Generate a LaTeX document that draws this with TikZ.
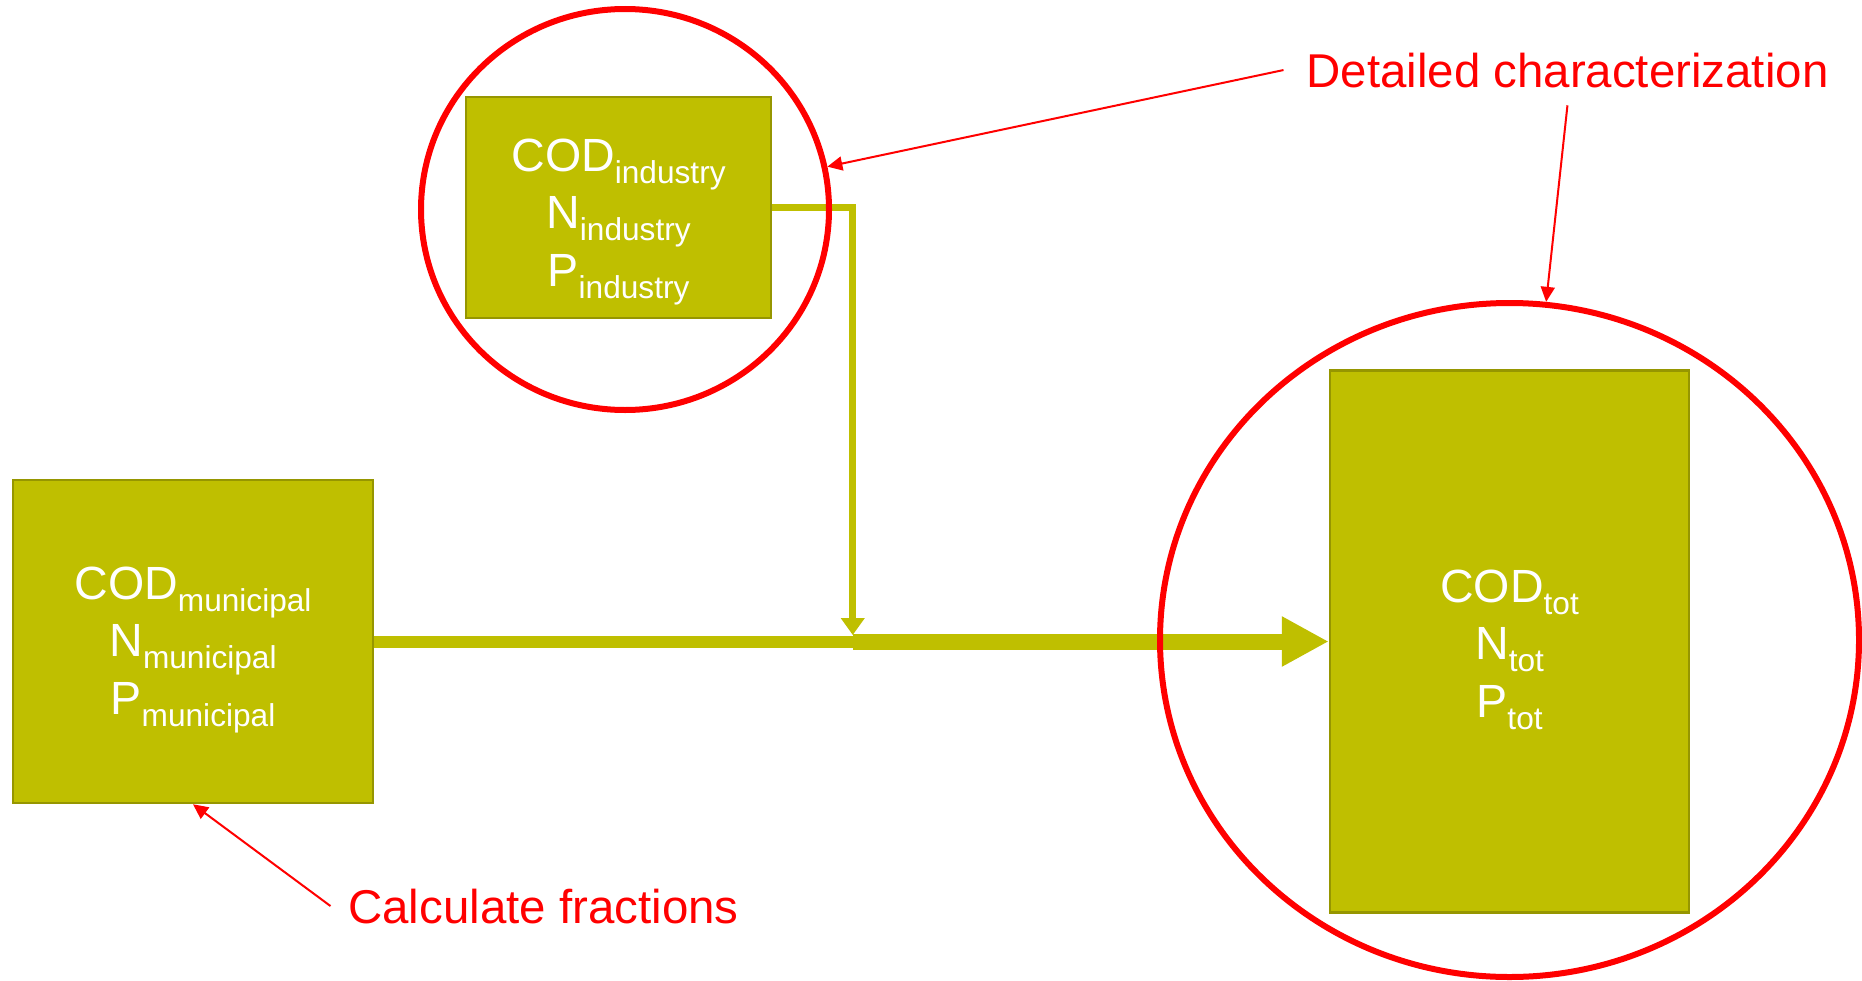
\documentclass[tikz,border=0pt]{standalone}
\usepackage{fontspec}
\setmainfont{Liberation Sans}
\usepackage{xcolor}
\usepackage{tikz}
\usetikzlibrary{arrows.meta,positioning,shapes.geometric}
\definecolor{olivebox}{RGB}{191,191,0}
\definecolor{oliveedge}{RGB}{150,150,0}
\definecolor{notered}{RGB}{255,0,0}
\newcommand{\subtxt}[1]{\raisebox{-6.8pt}{\fontsize{18}{20}\selectfont #1}}

\begin{document}
\begin{tikzpicture}[>=Triangle]
\tikzstyle{loadbox}=[draw=oliveedge,line width=0.05cm,fill=olivebox,text=white,align=center,font=\fontsize{26.5}{32.7}\selectfont,inner sep=0pt]
\tikzstyle{ring}=[draw=notered,line width=0.12cm,ellipse,inner sep=0pt]
\tikzstyle{notetext}=[text=notered,font=\fontsize{27}{32}\selectfont,inner sep=0.15cm]
\tikzstyle{annot}=[draw=notered,line width=0.04cm,-{Triangle[length=0.3cm,width=0.28cm]}]
\useasboundingbox (0,0) rectangle (37.24,-19.6);
% load boxes
\node[loadbox,minimum width=7.2cm,minimum height=6.46cm] (muni) at (3.86,-12.83) {\rule{0pt}{28pt}COD\subtxt{municipal}\\N\subtxt{municipal}\\P\subtxt{municipal}};
\node[loadbox,minimum width=6.1cm,minimum height=4.42cm,above right=3.19cm and 1.81cm of muni] (ind) {\rule{0pt}{35pt}COD\subtxt{industry}\\N\subtxt{industry}\\P\subtxt{industry}};
\node[loadbox,minimum width=7.18cm,minimum height=10.84cm,right=19.09cm of muni] (tot) {\rule{0pt}{28pt}COD\subtxt{tot}\\N\subtxt{tot}\\P\subtxt{tot}};
% flows
\coordinate[right=9.57cm of muni.east] (join);
\draw[olivebox,line width=0.14cm,-{Triangle[length=0.34cm,width=0.46cm]}] (ind.east) -| ([yshift=0.13cm]join);
\draw[olivebox,line width=0.24cm] (muni.east) -- (join);
\draw[olivebox,line width=0.32cm,-{Triangle[length=0.94cm,width=0.94cm]}] (join) -- (tot.west);
% rings and notes
\node[ring,minimum width=8.16cm,minimum height=8.02cm] (indring) at (12.5,-4.19) {};
\node[ring,minimum width=13.98cm,minimum height=13.48cm] (totring) at (30.19,-12.8) {};
\node[notetext,anchor=base west] (detail) at (25.97,-1.74) {Detailed characterization};
\node[notetext,anchor=base west] (calc) at (6.81,-18.46) {Calculate fractions};
\draw[annot] ([xshift=-0.3cm]detail.west) -- (indring);
\draw[annot] ([yshift=-0.2cm]detail.south) -- (totring);
\draw[annot] ([xshift=-0.2cm]calc.west) -- (muni.south);
\end{tikzpicture}
\end{document}
